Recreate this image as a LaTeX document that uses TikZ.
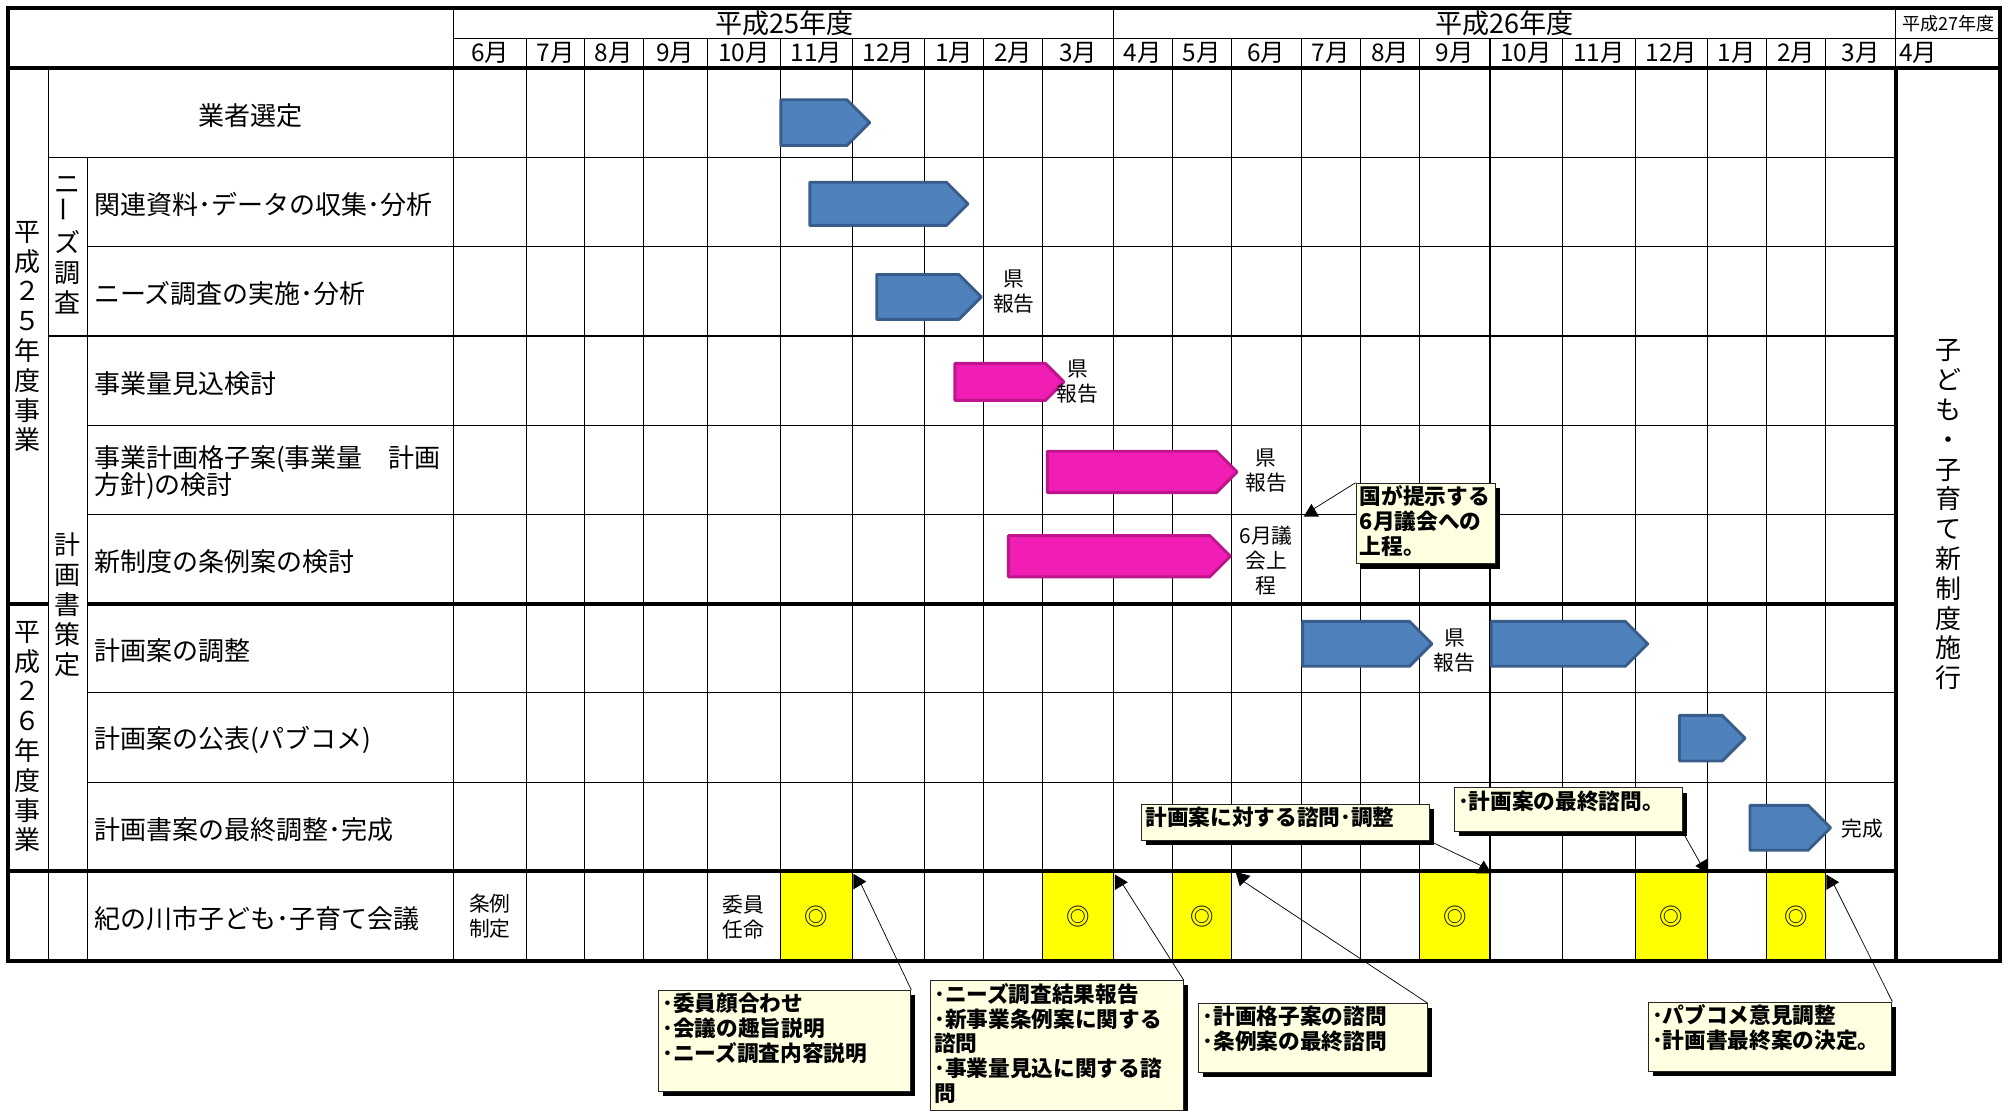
\documentclass[tikz,border=0pt]{standalone}
\usepackage{fontspec}
\setmainfont{Noto Sans CJK JP}
\usepackage{tikz}
\usetikzlibrary{shadows}

\definecolor{barblue}{RGB}{79,129,189}
\definecolor{barblueline}{RGB}{56,93,138}
\definecolor{barpink}{RGB}{240,30,180}
\definecolor{barpinkline}{RGB}{190,20,140}
\definecolor{notefill}{RGB}{255,255,225}
\definecolor{meetfill}{RGB}{255,255,0}

% bar: style, start, tip, middle, half height
\newcommand\gbar[5]{\draw[#1] (#2,#4-#5) -- (#3-#5,#4-#5) -- (#3,#4) -- (#3-#5,#4+#5) -- (#2,#4+#5) -- cycle;}
\newcommand\notebox[3]{\parbox[c][#2][t]{#1}{#3}}
\tikzset{tipmark/.pic = {\fill (5,0) -- (-5,-6) -- (-5,6) -- cycle;}}

\begin{document}
\begin{tikzpicture}[
				x = 0.025cm, y = -0.025cm,
				every node/.style = {inner sep = 0pt},
				thinline/.style = {line width = 0.6pt},
				thickline/.style = {line width = 2.2pt},
				rowlabel/.style = {anchor = west, align = left, font = \fontsize{14.4}{15.3}\selectfont},
				vlabel/.style = {align = center, font = \fontsize{14.4}{16.5}\selectfont},
				monthlabel/.style = {font = \fontsize{13.5}{14}\selectfont},
				memo/.style = {align = center, font = \fontsize{11.5}{13.8}\selectfont},
				bluebar/.style = {fill = barblue, draw = barblueline, line width = 1.6pt, line join = round},
				pinkbar/.style = {fill = barpink, draw = barpinkline, line width = 1.6pt, line join = round},
				callout/.style = {draw = black!85, fill = notefill, line width = 0.6pt, inner xsep = 0.075cm, inner ysep = 0.05cm, anchor = north west, font = \bfseries\fontsize{12}{13.8}\selectfont, drop shadow = {shadow xshift = 0.09cm, shadow yshift = -0.09cm, fill = black, opacity = 1}},
				leader/.style = {line width = 0.4pt}
				]
				\useasboundingbox (0,0) rectangle (1568,865);
				
				% meetings
				\foreach \a/\b [count=\i] in {607.9/663.8, 812/867.3, 913.2/959.1, 1105.7/1160.6, 1274/1329.9, 1376/1422} {
					\fill[meetfill] (\a,678.7) rectangle (\b,748.2);
					\node[font = \fontsize{13}{13}\selectfont] (kaigi\i) at ({(\a+\b)/2},714) {◎};
				}
				
				% grid
				\draw[thinline] (353,29.9) -- (1558,29.9);
				\foreach \y in {122.7,261.7} \draw[thinline] (37.6,\y) -- (1476.5,\y);
				\foreach \y in {192.2,331.2,400.7,539.7,609.2} \draw[thinline] (68.2,\y) -- (1476.5,\y);
				\draw[thinline] (37.6,53.2) -- (37.6,748.2) (68.2,122.7) -- (68.2,748.2) (353,6) -- (353,748.2) (867.3,6) -- (867.3,748.2) (1476.5,6) -- (1476.5,53.2);
				\foreach \x in {410.3,455.2,501.1,550.8,607.9,663.8,720.2,766.1,812,913.2,959.1,1013.7,1059.7,1105.7,1160.6,1216.9,1274,1329.9,1376,1422} \draw[thinline] (\x,29.9) -- (\x,748.2);
				\draw[thickline] (6,53.2) -- (1558,53.2) (6,470.2) -- (37.6,470.2) (68.2,470.2) -- (1476.5,470.2) (6,678.7) -- (1476.5,678.7) (1476.5,53.2) -- (1476.5,748.2);
				\draw[thickline] (6,6) rectangle (1558,748.2);
				
				% header
				\node[font = \fontsize{15}{15}\selectfont] (fy25) at (611,18) {平成25年度};
				\node[font = \fontsize{15}{15}\selectfont] (fy26) at (1172,18) {平成26年度};
				\node[font = \fontsize{10}{10}\selectfont] (fy27) at (1517.5,18.5) {平成27年度};
				\foreach \a/\b/\m [count=\i] in {353/410.3/6月, 410.3/455.2/7月, 455.2/501.1/8月, 501.1/550.8/9月, 550.8/607.9/10月, 607.9/663.8/11月, 663.8/720.2/12月, 720.2/766.1/1月, 766.1/812/2月, 812/867.3/3月, 867.3/913.2/4月, 913.2/959.1/5月, 959.1/1013.7/6月, 1013.7/1059.7/7月, 1059.7/1105.7/8月, 1105.7/1160.6/9月, 1160.6/1216.9/10月, 1216.9/1274/11月, 1274/1329.9/12月, 1329.9/1376/1月, 1376/1422/2月, 1422/1476.5/3月}
					\node[monthlabel] (mon\i) at ({(\a+\b)/2},41.5) {\m};
				\node[monthlabel, anchor = west] (apr27) at (1479,41.5) {4月};
				
				% left columns
				\node[vlabel] (h25) at (21.8,262.2) {平\\成\\２\\５\\年\\度\\事\\業};
				\node[vlabel] (h26) at (21.8,573.8) {平\\成\\２\\６\\年\\度\\事\\業};
				\node[vlabel] (needs) at (52.9,190.8) {ニ\\\rotatebox{90}{ー}\\ズ\\調\\査};
				\node[vlabel] (plan) at (52.9,471) {計\\画\\書\\策\\定};
				\node[vlabel] (enact) at (1517.5,401) {子\\ど\\も\\・\\子\\育\\て\\新\\制\\度\\施\\行};
				
				\node[font = \fontsize{14.4}{15}\selectfont] (r1) at (195.5,90) {業者選定};
				\node[rowlabel] (r2) at (73,159.5) {関連資料･データの収集･分析};
				\node[rowlabel] (r3) at (73,229) {ニーズ調査の実施･分析};
				\node[rowlabel] (r4) at (73,298.5) {事業量見込検討};
				\node[rowlabel] (r5) at (73,368) {事業計画格子案(事業量　計画\\方針)の検討};
				\node[rowlabel] (r6) at (73,437.5) {新制度の条例案の検討};
				\node[rowlabel] (r7) at (73,507) {計画案の調整};
				\node[rowlabel] (r8) at (73,576.5) {計画案の公表(パブコメ)};
				\node[rowlabel] (r9) at (73,646) {計画書案の最終調整･完成};
				\node[rowlabel] (r10) at (73,715.5) {紀の川市子ども･子育て会議};
				
				% bars
				\gbar{bluebar}{608.2}{677.5}{95.5}{17.8}
				\gbar{bluebar}{630.8}{754}{158.8}{16.8}
				\gbar{bluebar}{682.9}{764.4}{231.3}{17.5}
				\gbar{pinkbar}{743.8}{828.7}{297.5}{14.4}
				\gbar{pinkbar}{815.8}{963.6}{367.6}{16.1}
				\gbar{pinkbar}{785.5}{958.4}{433.3}{16.1}
				\gbar{bluebar}{1014.7}{1115.4}{501.5}{17.5}
				\gbar{bluebar}{1161.6}{1283.5}{501.5}{17.5}
				\gbar{bluebar}{1308.2}{1359.3}{575}{17.8}
				\gbar{bluebar}{1363.1}{1425.9}{644.8}{17.5}
				
				\node[memo] (rep1) at (789.7,227.4) {県\\報告};
				\node[memo] (rep2) at (839.5,297.3) {県\\報告};
				\node[memo] (rep3) at (986.2,366.7) {県\\報告};
				\node[memo] (gikai) at (986.2,436.5) {6月議\\会上\\程};
				\node[memo] (rep4) at (1133,506.7) {県\\報告};
				\node[memo, anchor = west] (done) at (1434,645.2) {完成};
				\node[memo] (jorei) at (381.5,713.8) {条例\\制定};
				\node[memo] (iin) at (579.3,714.7) {委員\\任命};
				
				% callouts
				\node[callout] (note1) at (512.6,771.2) {\notebox{4.76cm}{1.86cm}{･委員顔合わせ\\･会議の趣旨説明\\･ニーズ調査内容説明}};
				\node[callout] (note2) at (724.3,763.4) {\notebox{4.77cm}{2.43cm}{･ニーズ調査結果報告\\･新事業条例案に関する\\諮問\\･事業量見込に関する諮\\問}};
				\node[callout] (note3) at (933.3,781.5) {\notebox{4.3cm}{1.23cm}{･計画格子案の諮問\\･条例案の最終諮問}};
				\node[callout] (note4) at (888.8,626.3) {\notebox{5.45cm}{0.6cm}{計画案に対する諮問･調整}};
				\node[callout] (note5) at (1132.3,613.3) {\notebox{4.29cm}{0.75cm}{･計画案の最終諮問。}};
				\node[callout] (note6) at (1283.5,780.2) {\notebox{4.59cm}{1.25cm}{･パブコメ意見調整\\･計画書最終案の決定。}};
				\node[callout] (note7) at (1055.9,376) {\notebox{2.56cm}{1.47cm}{国が提示する\\6月議会への\\上程。}};
				
				\coordinate (t1) at (1021.5,397.5);
				\coordinate (t2) at (669.8,686.7);
				\coordinate (t3) at (873.5,687.2);
				\coordinate (t4) at (967,685.5);
				\coordinate (t5) at (1155.7,675.3);
				\coordinate (t6) at (1325.5,674.5);
				\coordinate (t7) at (1427.6,687.2);
				\draw[leader] (note7.north west) -- (t1);
				\draw[leader] (note1.north east) -- (t2);
				\draw[leader] (note2.north east) -- (t3);
				\draw[leader] (note3.north east) -- (t4);
				\draw[leader] (note4.south east) -- (t5);
				\draw[leader] (note5.south east) -- (t6);
				\draw[leader] (note6.north east) -- (t7);
				\pic[rotate = 90] at (t1) {tipmark};
				\pic at (t2) {tipmark};
				\pic at (t3) {tipmark};
				\pic[rotate = -105] at (t4) {tipmark};
				\pic[rotate = 90] at (t5) {tipmark};
				\pic[rotate = 180] at (t6) {tipmark};
				\pic at (t7) {tipmark};
			\end{tikzpicture}
\end{document}
